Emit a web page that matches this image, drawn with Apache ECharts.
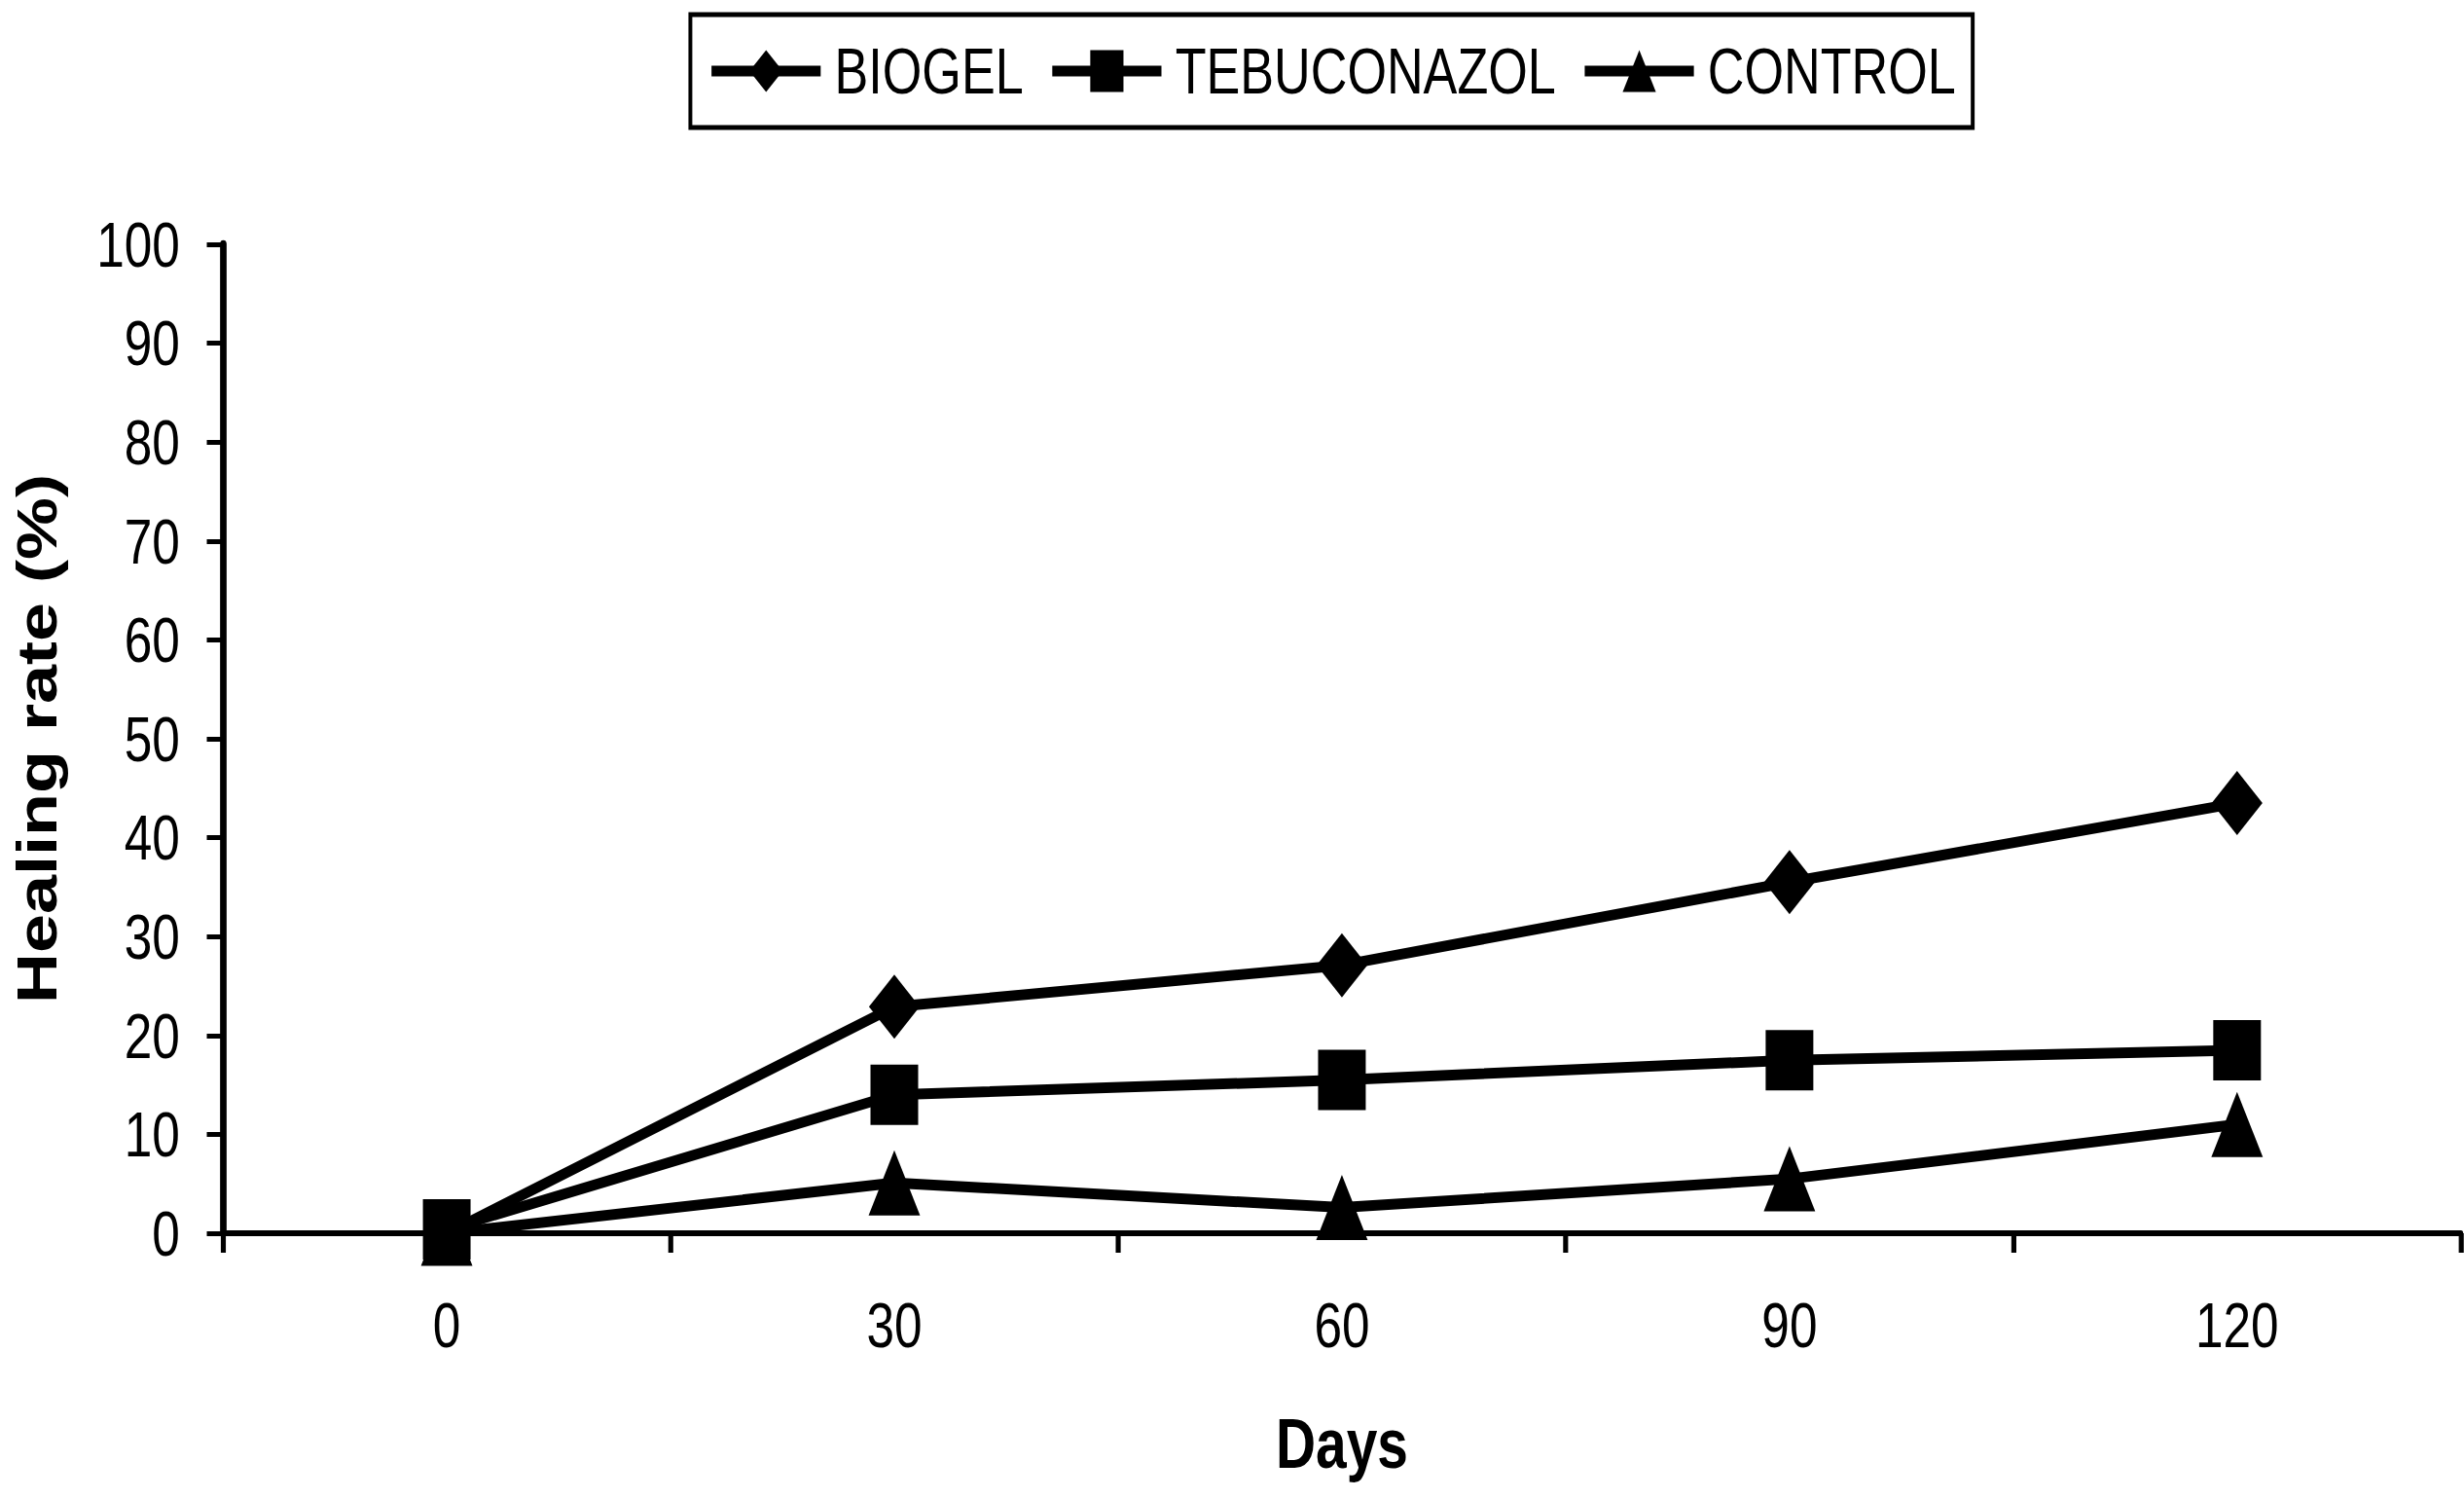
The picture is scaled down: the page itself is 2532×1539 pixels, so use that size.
<!DOCTYPE html>
<html>
<head>
<meta charset="utf-8">
<script src="https://cdn.jsdelivr.net/npm/echarts@6/dist/echarts.min.js"></script>
<style>
html,body{margin:0;padding:0;width:2532px;height:1539px;overflow:hidden;background:#fff}
#chart{width:3205px;height:1539px;transform:scaleX(0.79);transform-origin:0 0}
</style>
</head>
<body>
<div id="chart"></div>
<script>
const days = ['0', '30', '60', '90', '120'];
const seriesNames = ['BIOGEL', 'TEBUCONAZOL', 'CONTROL'];
const biogel = [0, 22.9, 27.1, 35.5, 43.5];
const tebuconazol = [0.4, 14.0, 15.5, 17.5, 18.5];
const control = [0, 5.1, 2.6, 5.5, 11.0];
const yMin = 0, yMax = 100, yStep = 10;

const FONT = 'Liberation Sans, Arial, sans-serif';
const chart = echarts.init(document.getElementById('chart'), null, {renderer: 'svg'});

function mkSeries(name, data, symbol, size) {
  return {
    name: name, type: 'line', data: data,
    symbol: symbol, symbolSize: size, showSymbol: true,
    lineStyle: {color: '#000', width: 11},
    itemStyle: {color: '#000'},
    emphasis: {disabled: true},
    animation: false
  };
}

chart.setOption({
  backgroundColor: '#fff',
  animation: false,
  grid: {left: 290, right: 4, top: 251, bottom: 272, containLabel: false},
  legend: {
    data: seriesNames,
    left: 898, top: 15,
    padding: [25, 22, 25, 22],
    itemWidth: 142, itemHeight: 54, itemGap: 32,
    borderColor: '#000', borderWidth: 5, borderRadius: 0,
    lineStyle: {color: '#000', width: 11},
    itemStyle: {color: '#000'},
    textStyle: {fontFamily: FONT, fontSize: 66, color: '#000', padding: [0, 0, 0, 13]},
    selectedMode: false
  },
  xAxis: {
    type: 'category', data: days, boundaryGap: true,
    axisLine: {show: true, lineStyle: {color: '#000', width: 6}},
    axisTick: {show: true, length: 20, lineStyle: {color: '#000', width: 6.5}},
    axisLabel: {fontFamily: FONT, fontSize: 65, color: '#000', margin: 62},
    splitLine: {show: false},
    name: 'Days', nameLocation: 'middle', nameGap: 180,
    nameTextStyle: {fontFamily: FONT, fontSize: 72, fontWeight: 'bold', color: '#000'}
  },
  yAxis: {
    type: 'value', min: yMin, max: yMax, interval: yStep,
    axisLine: {show: true, lineStyle: {color: '#000', width: 8.5}},
    axisTick: {show: true, length: 21, lineStyle: {color: '#000', width: 5}},
    axisLabel: {fontFamily: FONT, fontSize: 65, color: '#000', margin: 56},
    splitLine: {show: false},
    name: 'Healing rate (%)', nameLocation: 'middle', nameGap: 205,
    nameTextStyle: {fontFamily: FONT, fontSize: 72, fontWeight: 'bold', color: '#000'}
  },
  series: [
    mkSeries(seriesNames[0], biogel, 'diamond', 66),
    mkSeries(seriesNames[1], tebuconazol, 'rect', 62),
    mkSeries(seriesNames[2], control, 'triangle', 67)
  ]
});
</script>
</body>
</html>
